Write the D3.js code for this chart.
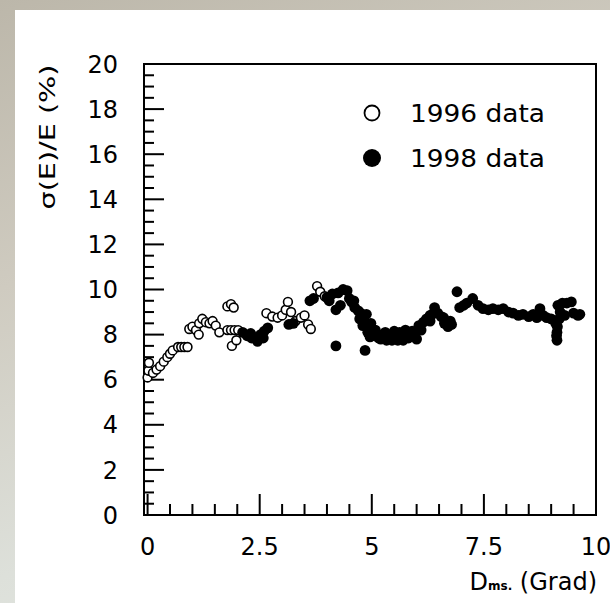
<!DOCTYPE html>
<html lang="en">
<head>
    <meta charset="UTF-8">
    <title>Energy resolution vs distance</title>
    <script src="https://d3js.org/d3.v7.min.js"></script>
    <style>
        html, body { margin: 0; padding: 0; }
        body {
            width: 610px; height: 603px; overflow: hidden;
            background: linear-gradient(160deg, #bcb7aa 0%, #cfcbc0 35%, #dde0da 70%, #e6ebe6 100%);
        }
        svg { display: block; }
        text { font-family: "DejaVu Sans", sans-serif; fill: #000; }
    </style>
</head>
<body>
    <div id="chart"></div>
    <script>
        // 1996 data (open markers)
        const x1996 = [0.0, 0.02, 0.03, 0.12, 0.2, 0.28, 0.36, 0.44, 0.5, 0.56, 0.68, 0.75, 0.82, 0.89,
            0.93, 1.0, 1.08, 1.14, 1.15, 1.22, 1.3, 1.38, 1.45, 1.52, 1.6, 1.78, 1.86, 1.94, 2.02,
            1.78, 1.86, 1.92, 1.88, 1.98, 2.65, 2.78, 2.9, 3.0, 3.08, 3.13, 3.2, 3.3, 3.42, 3.5,
            3.58, 3.64, 3.78, 3.85, 3.95];
        const y1996 = [6.1, 6.4, 6.75, 6.3, 6.45, 6.6, 6.8, 7.0, 7.15, 7.3, 7.45, 7.45, 7.45, 7.45,
            8.25, 8.35, 8.2, 8.0, 8.5, 8.7, 8.55, 8.5, 8.6, 8.4, 8.1, 8.2, 8.2, 8.2, 8.2,
            9.25, 9.35, 9.2, 7.5, 7.75, 8.95, 8.8, 8.75, 8.85, 9.1, 9.45, 9.0, 8.6, 8.75, 8.85,
            8.45, 8.25, 10.15, 9.9, 9.7];

        // 1998 data (filled markers)
        const x1998 = [2.12, 2.22, 2.3, 2.32, 2.42, 2.45, 2.52, 2.58, 2.6, 2.68, 3.15, 3.25, 3.62, 3.7,
            4.0, 4.05, 4.12, 4.2, 4.25, 4.3, 4.36, 4.45, 4.5, 4.55, 4.6, 4.2, 4.62, 4.7, 4.73, 4.75,
            4.8, 4.82, 4.85, 4.88, 4.9, 4.91, 4.95, 4.96, 4.98, 5.02, 5.08, 5.1, 5.15, 5.2, 5.25,
            5.3, 5.33, 5.42, 5.45, 5.5, 5.58, 5.62, 5.66, 5.7, 5.75, 5.82, 5.9, 5.95, 6.0, 6.05,
            6.1, 6.15, 6.22, 6.3, 6.3, 6.35, 6.4, 6.47, 6.55, 6.6, 6.62, 6.7, 6.75, 6.78, 6.9,
            6.96, 7.05, 7.12, 7.25, 7.37, 7.48, 7.6, 7.7, 7.82, 7.93, 8.05, 8.15, 8.27, 8.37, 8.5,
            8.6, 8.68, 8.75, 8.82, 8.9, 9.0, 9.1, 9.12, 9.13, 9.13, 9.14, 9.15, 9.18, 9.2, 9.25,
            9.3, 9.35, 9.45, 9.5, 9.6, 9.64];
        const y1998 = [8.1, 7.95, 8.05, 7.85, 7.85, 7.7, 8.0, 7.85, 8.15, 8.3, 8.45, 8.5, 9.5, 9.6,
            9.65, 9.5, 9.8, 9.1, 9.85, 9.3, 10.0, 9.95, 9.6, 9.45, 9.5, 7.5, 9.2, 9.05, 8.7, 8.95,
            8.4, 8.65, 7.3, 8.9, 8.3, 8.1, 8.15, 7.9, 8.5, 7.95, 8.2, 8.05, 7.85, 7.8, 8.0,
            8.1, 7.75, 7.95, 7.75, 8.15, 7.75, 8.1, 7.9, 7.75, 8.2, 7.85, 8.15, 8.0, 7.8, 8.4,
            8.2, 8.55, 8.7, 8.6, 8.85, 8.9, 9.2, 8.95, 8.8, 8.75, 8.5, 8.35, 8.6, 8.45, 9.9,
            9.2, 9.3, 9.4, 9.6, 9.3, 9.15, 9.1, 9.15, 9.1, 9.15, 9.0, 8.95, 8.85, 8.9, 8.8,
            8.9, 8.75, 9.15, 8.85, 8.75, 8.7, 8.5, 7.95, 8.1, 7.75, 8.35, 9.3, 8.7, 9.0, 9.4,
            8.85, 9.4, 9.45, 8.95, 8.85, 8.9];

        const xTickLabels = ['0', '2.5', '5', '7.5', '10'];
        const yTickLabels = ['0', '2', '4', '6', '8', '10', '12', '14', '16', '18', '20'];
        const legendLabels = ['1996 data', '1998 data'];

        const width = 610, height = 603;
        const frame = { left: 144, right: 596, top: 64, bottom: 515 };

        const svg = d3.select('#chart').append('svg')
            .attr('width', width)
            .attr('height', height);

        // white panel
        svg.append('rect')
            .attr('x', 15).attr('y', 10)
            .attr('width', width - 15).attr('height', height - 10)
            .attr('fill', '#fff');

        const x = d3.scaleLinear().domain([-0.08, 10]).range([frame.left, frame.right]);
        const y = d3.scaleLinear().domain([0, 20]).range([frame.bottom, frame.top]);

        // frame
        svg.append('rect')
            .attr('x', frame.left).attr('y', frame.top)
            .attr('width', frame.right - frame.left)
            .attr('height', frame.bottom - frame.top)
            .attr('fill', 'none')
            .attr('stroke', '#000')
            .attr('stroke-width', 2);

        // y axis ticks (inside), major every 2, minor every 0.5
        const yAxis = svg.append('g').attr('transform', `translate(${frame.left},0)`);
        yAxis.selectAll('line')
            .data(d3.range(0, 20.01, 0.5))
            .enter().append('line')
            .attr('x1', 0)
            .attr('x2', d => (Math.abs(d / 2 - Math.round(d / 2)) < 1e-6 ? 20 : 10))
            .attr('y1', d => y(d)).attr('y2', d => y(d))
            .attr('stroke', '#000').attr('stroke-width', 2);
        yAxis.selectAll('text')
            .data(yTickLabels)
            .enter().append('text')
            .attr('x', -26)
            .attr('y', d => y(+d))
            .attr('dy', '0.36em')
            .attr('text-anchor', 'end')
            .attr('font-size', 24)
            .text(d => d);

        // x axis ticks, major every 2.5, minor every 0.5
        const xAxis = svg.append('g').attr('transform', `translate(0,${frame.bottom})`);
        xAxis.selectAll('line')
            .data(d3.range(0, 10.01, 0.5))
            .enter().append('line')
            .attr('x1', d => x(d)).attr('x2', d => x(d))
            .attr('y1', 0)
            .attr('y2', d => (Math.abs(d / 2.5 - Math.round(d / 2.5)) < 1e-6 ? -21 : -11))
            .attr('stroke', '#000').attr('stroke-width', 2);
        xAxis.selectAll('text')
            .data(xTickLabels)
            .enter().append('text')
            .attr('x', d => x(+d))
            .attr('y', 40)
            .attr('text-anchor', 'middle')
            .attr('font-size', 24)
            .text(d => d);

        // axis titles
        const xTitle = svg.append('text')
            .attr('x', 597).attr('y', 590)
            .attr('text-anchor', 'end')
            .attr('font-size', 24);
        xTitle.append('tspan').text('D');
        xTitle.append('tspan').attr('font-size', 12).attr('font-weight', 'bold').text('ms.');
        xTitle.append('tspan').text(' (Grad)');

        svg.append('text')
            .attr('transform', 'translate(55,137) rotate(-90)')
            .attr('text-anchor', 'middle')
            .attr('font-size', 22)
            .attr('textLength', 145)
            .attr('lengthAdjust', 'spacingAndGlyphs')
            .text('σ(E)/E (%)');

        // data
        const plot = svg.append('g');
        plot.selectAll('.open')
            .data(d3.range(x1996.length))
            .enter().append('circle')
            .attr('class', 'open')
            .attr('cx', i => x(x1996[i]))
            .attr('cy', i => y(y1996[i]))
            .attr('r', 4.4)
            .attr('fill', '#fff')
            .attr('stroke', '#000')
            .attr('stroke-width', 1.6);
        plot.selectAll('.filled')
            .data(d3.range(x1998.length))
            .enter().append('circle')
            .attr('class', 'filled')
            .attr('cx', i => x(x1998[i]))
            .attr('cy', i => y(y1998[i]))
            .attr('r', 5.4)
            .attr('fill', '#000');

        // legend
        const legend = svg.append('g');
        legend.append('circle')
            .attr('cx', 372).attr('cy', 113).attr('r', 7.5)
            .attr('fill', '#fff').attr('stroke', '#000').attr('stroke-width', 1.8);
        legend.append('circle')
            .attr('cx', 372).attr('cy', 158).attr('r', 9)
            .attr('fill', '#000');
        legend.selectAll('text')
            .data(legendLabels)
            .enter().append('text')
            .attr('x', 410)
            .attr('y', (d, i) => 113 + i * 45)
            .attr('dy', '0.36em')
            .attr('font-size', 24)
            .attr('textLength', 135)
            .attr('lengthAdjust', 'spacingAndGlyphs')
            .text(d => d);
    </script>
</body>
</html>
